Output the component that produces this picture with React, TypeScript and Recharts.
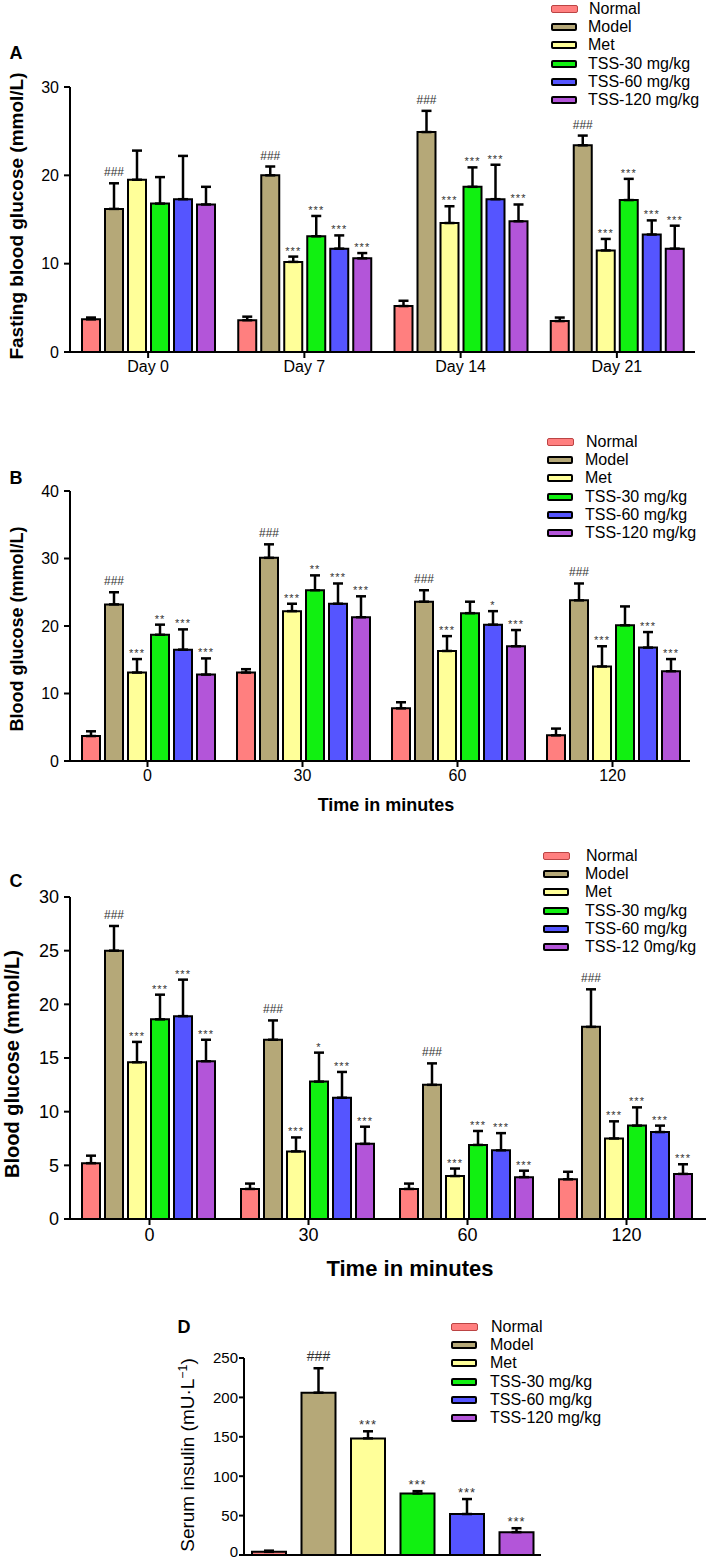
import React from 'react';
import { BarChart, Bar, XAxis, YAxis, ErrorBar, LabelList, Cell } from 'recharts';

const SERIES = ['Normal', 'Model', 'Met', 'TSS-30 mg/kg', 'TSS-60 mg/kg', 'TSS-120 mg/kg'];
const SERIES_C = ['Normal', 'Model', 'Met', 'TSS-30 mg/kg', 'TSS-60 mg/kg', 'TSS-12 0mg/kg'];
const COLORS = ['#ff7f7f', '#b5a878', '#ffff99', '#11f011', '#5555ff', '#b355d9'];

const DAYS = ['Day 0', 'Day 7', 'Day 14', 'Day 21'];
const MINUTES = ['0', '30', '60', '120'];

// rows = series (Normal ... TSS-120), columns = time points
const A_MEAN = [
  [3.7, 3.6, 5.2, 3.5],
  [16.2, 20.0, 24.9, 23.4],
  [19.5, 10.2, 14.6, 11.5],
  [16.8, 13.1, 18.7, 17.2],
  [17.3, 11.7, 17.3, 13.3],
  [16.7, 10.6, 14.8, 11.7],
];
const A_SD = [
  [0.2, 0.4, 0.6, 0.4],
  [2.9, 1.0, 2.4, 1.1],
  [3.3, 0.6, 1.9, 1.3],
  [3.0, 2.3, 2.2, 2.4],
  [4.9, 1.5, 3.9, 1.6],
  [2.0, 0.6, 1.9, 2.6],
];
const A_SIG = [
  ['', '', '', ''],
  ['###', '###', '###', '###'],
  ['', '***', '***', '***'],
  ['', '***', '***', '***'],
  ['', '***', '***', '***'],
  ['', '***', '***', '***'],
];

const B_MEAN = [
  [3.7, 13.1, 7.8, 3.8],
  [23.2, 30.1, 23.6, 23.8],
  [13.1, 22.2, 16.3, 14.0],
  [18.7, 25.3, 21.9, 20.1],
  [16.5, 23.3, 20.2, 16.8],
  [12.8, 21.3, 17.0, 13.3],
];
const B_SD = [
  [0.7, 0.5, 0.9, 1.0],
  [1.8, 2.0, 1.7, 2.5],
  [2.0, 1.1, 2.2, 3.0],
  [1.5, 2.2, 1.7, 2.8],
  [3.0, 3.0, 2.0, 2.3],
  [2.4, 3.1, 2.4, 1.8],
];
const B_SIG = [
  ['', '', '', ''],
  ['###', '###', '###', '###'],
  ['***', '***', '***', '***'],
  ['**', '**', '', ''],
  ['***', '***', '*', '***'],
  ['***', '***', '***', '***'],
];

const C_MEAN = [
  [5.2, 2.8, 2.8, 3.7],
  [25.0, 16.7, 12.5, 17.9],
  [14.6, 6.3, 4.0, 7.5],
  [18.6, 12.8, 6.9, 8.7],
  [18.9, 11.3, 6.4, 8.1],
  [14.7, 7.0, 3.9, 4.2],
];
const C_SD = [
  [0.7, 0.5, 0.5, 0.7],
  [2.3, 1.8, 2.0, 3.5],
  [1.9, 1.3, 0.7, 1.6],
  [2.3, 2.7, 1.3, 1.7],
  [3.4, 2.4, 1.6, 0.6],
  [2.0, 1.6, 0.6, 0.9],
];
const C_SIG = [
  ['', '', '', ''],
  ['###', '###', '###', '###'],
  ['***', '***', '***', '***'],
  ['***', '*', '***', '***'],
  ['***', '***', '***', '***'],
  ['***', '***', '***', '***'],
];

const D_MEAN = [4, 206, 148, 78, 52, 29];
const D_SD = [1.5, 31, 9, 3, 19, 5];
const D_SIG = ['', '###', '***', '***', '***', '***'];
const D_TICKS = [0, 50, 100, 150, 200, 250];

const FONT = '"Liberation Sans", Arial, sans-serif';
const axisStroke = { stroke: '#000', strokeWidth: 2 };

function buildRows(cats: string[], mean: number[][], sd: number[][], sig: string[][]) {
  return cats.map((cat, j) => {
    const row: Record<string, any> = { cat };
    mean.forEach((m, i) => {
      row[`s${i}`] = m[j];
      row[`e${i}`] = [0, sd[i][j]];
      row[`g${i}`] = sig[i][j];
    });
    return row;
  });
}

// star / hash marks sit just above the error bar cap
function sigLabel(means: number[], sds: number[], size: number) {
  return (p: any) => {
    const text = p.value;
    if (!text) return null;
    const vb = p.viewBox || p;
    const idx = p.index;
    const x = vb.x + vb.width / 2;
    const perUnit = vb.height / means[idx];
    const top = vb.y - sds[idx] * perUnit;
    const hash = text[0] === '#';
    return (
      <text
        x={x}
        y={top - (hash ? 7 : 2)}
        textAnchor="middle"
        fontSize={hash ? size + 1 : size}
        fill="#333"
        letterSpacing={hash ? 0 : 1}
        fontFamily={FONT}
      >
        {text}
      </text>
    );
  };
}

// y tick for the insulin panel; the bottom label is nudged up so it stays on the page
function InsulinTick(p: any) {
  const v = p.payload.value;
  return (
    <text x={p.x} y={v === 0 ? p.y - 3 : p.y} dy="0.355em" textAnchor="end" fontSize={15} fill="#000">
      {v}
    </text>
  );
}

function Swatches({ left, textLeft, top, names, fontSize }: any) {
  return (
    <div style={{ position: 'absolute', left, top }}>
      {names.map((n: string, i: number) => (
        <div key={n} style={{ height: 18.2, display: 'flex', alignItems: 'center' }}>
          <div
            style={{
              width: i === 0 ? 25 : 22,
              height: i === 0 ? 6 : 4,
              background: COLORS[i],
              border: i === 0 ? '1px solid #b44' : '2.5px solid #000',
              borderRadius: 2,
            }}
          />
          <span style={{ marginLeft: textLeft - left - 27, fontSize, whiteSpace: 'nowrap', lineHeight: 1 }}>{n}</span>
        </div>
      ))}
    </div>
  );
}

function Txt({ x, y, size, bold, rotate, children }: any) {
  return (
    <div
      style={{
        position: 'absolute',
        left: x,
        top: y,
        transform: `translate(-50%, -50%)${rotate ? ' rotate(-90deg)' : ''}`,
        fontSize: size,
        fontWeight: bold ? 'bold' : 'normal',
        whiteSpace: 'nowrap',
        lineHeight: 1,
      }}
    >
      {children}
    </div>
  );
}

function GroupPanel({ top, height, margin, cats, mean, sd, sig, ticks, tickFont, sigFont }: any) {
  const rows = buildRows(cats, mean, sd, sig);
  return (
    <div style={{ position: 'absolute', left: 0, top }}>
      <BarChart width={709} height={height} data={rows} margin={margin} barCategoryGap={12} barGap={5}>
        <XAxis
          dataKey="cat"
          height={30}
          axisLine={axisStroke}
          tickLine={axisStroke}
          tickSize={6}
          tickMargin={3}
          tick={{ fontSize: tickFont, fill: '#000' }}
        />
        <YAxis
          width={45}
          domain={[0, ticks[ticks.length - 1]]}
          ticks={ticks}
          interval={0}
          axisLine={axisStroke}
          tickLine={axisStroke}
          tickSize={6}
          tickMargin={5}
          tick={{ fontSize: tickFont, fill: '#000' }}
        />
        {mean.map((m: number[], i: number) => (
          <Bar
            key={i}
            dataKey={`s${i}`}
            fill={COLORS[i]}
            stroke="#000"
            strokeWidth={2}
            isAnimationActive={false}
          >
            <ErrorBar dataKey={`e${i}`} direction="y" width={5} stroke="#000" strokeWidth={2.5} />
            <LabelList dataKey={`g${i}`} content={sigLabel(m, sd[i], sigFont)} />
          </Bar>
        ))}
      </BarChart>
    </div>
  );
}

function InsulinPanel() {
  const rows = SERIES.map((name, i) => ({ cat: name, v: D_MEAN[i], e: [0, D_SD[i]], g: D_SIG[i] }));
  return (
    <div style={{ position: 'absolute', left: 0, top: 1320 }}>
      <BarChart
        width={709}
        height={240}
        data={rows}
        margin={{ top: 38, right: 168, bottom: 3, left: 200 }}
        barCategoryGap={8}
      >
        <XAxis dataKey="cat" height={2} axisLine={axisStroke} tickLine={false} tick={false} />
        <YAxis
          width={44}
          domain={[0, 250]}
          ticks={D_TICKS}
          interval={0}
          axisLine={axisStroke}
          tickLine={axisStroke}
          tickSize={5}
          tickMargin={1}
          tick={<InsulinTick />}
        />
        <Bar dataKey="v" stroke="#000" strokeWidth={2} isAnimationActive={false}>
          {rows.map((r, i) => (
            <Cell key={r.cat} fill={COLORS[i]} />
          ))}
          <ErrorBar dataKey="e" direction="y" width={5} stroke="#000" strokeWidth={2.5} />
          <LabelList dataKey="g" content={sigLabel(D_MEAN, D_SD, 13)} />
        </Bar>
      </BarChart>
    </div>
  );
}

export default function App() {
  return (
    <div
      style={{
        position: 'absolute',
        left: 0,
        top: 0,
        width: 709,
        height: 1560,
        background: '#fff',
        fontFamily: FONT,
        color: '#000',
        overflow: 'hidden',
      }}
    >
      <GroupPanel
        top={0}
        height={400}
        margin={{ top: 87, right: 14, bottom: 18, left: 25 }}
        cats={DAYS}
        mean={A_MEAN}
        sd={A_SD}
        sig={A_SIG}
        ticks={[0, 10, 20, 30]}
        tickFont={16}
        sigFont={11}
      />
      <GroupPanel
        top={420}
        height={390}
        margin={{ top: 71, right: 19, bottom: 19, left: 25 }}
        cats={MINUTES}
        mean={B_MEAN}
        sd={B_SD}
        sig={B_SIG}
        ticks={[0, 10, 20, 30, 40]}
        tickFont={16}
        sigFont={11}
      />
      <GroupPanel
        top={830}
        height={420}
        margin={{ top: 67, right: 3, bottom: 1, left: 25 }}
        cats={MINUTES}
        mean={C_MEAN}
        sd={C_SD}
        sig={C_SIG}
        ticks={[0, 5, 10, 15, 20, 25, 30]}
        tickFont={18}
        sigFont={11}
      />
      <InsulinPanel />

      <Swatches left={551} textLeft={589} top={0} names={SERIES} fontSize={16} />
      <Swatches left={547} textLeft={586} top={433} names={SERIES} fontSize={16} />
      <Swatches left={543} textLeft={586} top={847} names={SERIES_C} fontSize={16} />
      <Swatches left={451} textLeft={491} top={1318} names={SERIES} fontSize={16} />

      <Txt x={16} y={53} size={18} bold>A</Txt>
      <Txt x={16} y={478} size={18} bold>B</Txt>
      <Txt x={16} y={881} size={18} bold>C</Txt>
      <Txt x={184} y={1327} size={18} bold>D</Txt>

      <Txt x={16} y={216} size={19} bold rotate>Fasting blood glucose (mmol/L)</Txt>
      <Txt x={17} y={629} size={18} bold rotate>Blood glucose (mmol/L)</Txt>
      <Txt x={12} y={1064} size={20} bold rotate>Blood glucose (mmol/L)</Txt>
      <Txt x={187} y={1455} size={19} rotate>
        Serum insulin (mU·L<sup style={{ fontSize: '0.65em' }}>−1</sup>)
      </Txt>

      <Txt x={386} y={805} size={18} bold>Time in minutes</Txt>
      <Txt x={410} y={1269} size={22} bold>Time in minutes</Txt>
    </div>
  );
}
